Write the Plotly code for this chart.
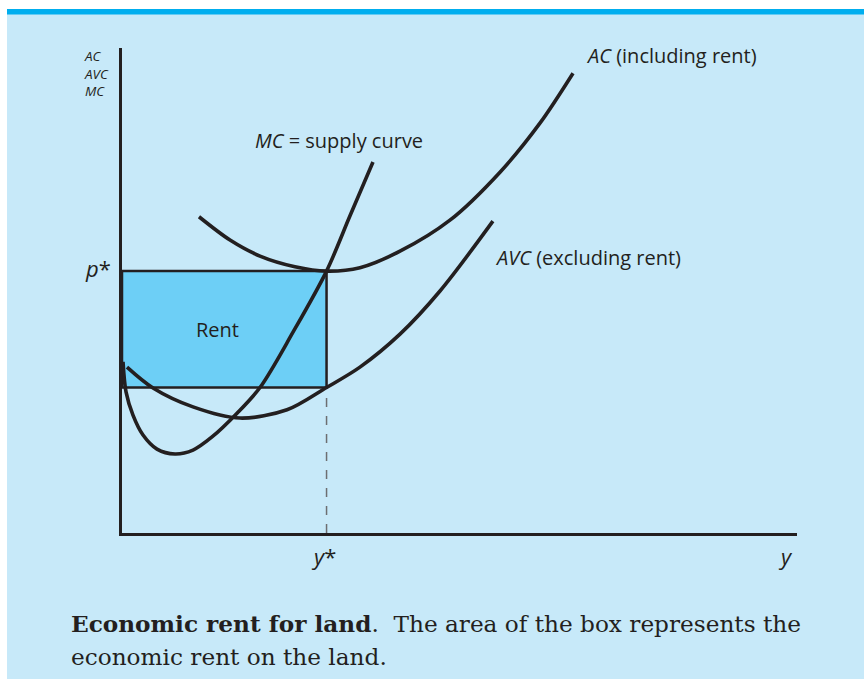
import plotly.graph_objects as go

# ---- data -------------------------------------------------------------
# output y on the horizontal axis, cost / price on the vertical axis
Y_STAR = 3.0          # equilibrium output
P_STAR = 5.4          # market price = minimum of AC
AVC_AT_Y_STAR = 3.0   # average variable cost at y*

mc_y = [0.015, 0.059, 0.161, 0.308, 0.513, 0.777, 1.041, 1.32, 1.687, 2.024, 2.508, 3.0, 3.344, 3.681]
mc_c = [3.53, 2.91, 2.43, 2.02, 1.73, 1.63, 1.71, 1.98, 2.47, 3.0, 4.14, 5.4, 6.54, 7.65]

avc_y = [0.073, 0.455, 1.041, 1.731, 2.42, 3.0, 3.49, 4.077, 4.664, 5.44]
avc_c = [3.42, 2.99, 2.60, 2.37, 2.54, 3.0, 3.42, 4.10, 4.99, 6.43]

ac_y = [1.129, 1.584, 2.024, 2.537, 3.0, 3.49, 4.077, 4.81, 5.544, 6.13, 6.615]
ac_c = [6.52, 6.04, 5.71, 5.49, 5.4, 5.47, 5.81, 6.45, 7.44, 8.45, 9.48]

X_MAX = 9.9
Y_MAX = 10.0

# ---- style ------------------------------------------------------------
INK = "#231f20"
PANEL = "#c7e9f9"
BAND = "#00aeef"
BOX = "#6dcff6"
SANS = "Open Sans"
SERIF = "DejaVu Serif"

W, H = 864, 679
L, R, T, B = 122, 67, 48, 146
PW, PH = W - L - R, H - T - B


def px(x):
    return (x - L) / PW


def py(y):
    return (H - B - y) / PH


fig = go.Figure()

curve = dict(color=INK, width=3.6, shape="spline", smoothing=0.9)
for xs, ys in [(mc_y, mc_c), (avc_y, avc_c), (ac_y, ac_c)]:
    fig.add_trace(go.Scatter(x=xs, y=ys, mode="lines", line=curve,
                             hoverinfo="skip", showlegend=False))

shapes = [
    # white page margins and the coloured header band
    dict(type="rect", xref="paper", yref="paper", x0=px(0), x1=px(7),
         y0=py(H), y1=py(0), fillcolor="white", line_width=0, layer="below"),
    dict(type="rect", xref="paper", yref="paper", x0=px(0), x1=px(W),
         y0=py(9), y1=py(0), fillcolor="white", line_width=0, layer="below"),
    dict(type="rect", xref="paper", yref="paper", x0=px(7), x1=px(W),
         y0=py(14.5), y1=py(9), fillcolor=BAND, line_width=0, layer="below"),
    # rent box
    dict(type="rect", xref="x", yref="y", x0=0, x1=Y_STAR,
         y0=AVC_AT_Y_STAR, y1=P_STAR, fillcolor=BOX,
         line=dict(color=INK, width=2.5), layer="below"),
    # dashed drop line at y*
    dict(type="line", xref="x", yref="y", x0=Y_STAR, x1=Y_STAR,
         y0=0, y1=AVC_AT_Y_STAR, line=dict(color="#6d6e71", width=1.5, dash="dash"),
         layer="below"),
]

txt = dict(family=SANS, color=INK)
ann = [
    # vertical axis title, stacked
    dict(xref="paper", yref="paper", x=px(82), y=py(45), xanchor="left",
         yanchor="top", align="left", showarrow=False,
         text="<i>AC</i><br><i>AVC</i><br><i>MC</i>", font=dict(size=13.5, **txt)),
    dict(x=1.92, y=8.10, text="<i>MC</i> = supply curve", xanchor="left",
         font=dict(size=20, **txt)),
    dict(x=6.78, y=9.84, text="<i>AC</i> (including rent)", xanchor="left",
         font=dict(size=20, **txt)),
    dict(x=5.44, y=5.69, text="<i>AVC</i> (excluding rent)", xanchor="left",
         font=dict(size=20, **txt)),
    dict(x=1.4, y=4.19, text="Rent", xanchor="center", font=dict(size=20, **txt)),
    dict(x=0, y=P_STAR, text="<i>p</i>*", xanchor="right", xshift=-9, yshift=3,
         font=dict(size=22, **txt)),
    dict(x=Y_STAR, y=0, text="<i>y</i>*", xanchor="center", yanchor="top",
         xshift=-3, yshift=-6, font=dict(size=22, **txt)),
    dict(x=X_MAX, y=0, text="<i>y</i>", xanchor="right", yanchor="top",
         xshift=-2, yshift=-6, font=dict(size=22, **txt)),
]
for a in ann:
    a.setdefault("showarrow", False)
    a.setdefault("yanchor", "middle")

cap = dict(family=SERIF, color=INK, size=23.2)
ann += [
    dict(xref="paper", yref="paper", x=px(69), y=py(623), xanchor="left",
         yanchor="middle", showarrow=False, font=cap,
         text="<b>Economic rent for land</b>.  The area of the box represents the"),
    dict(xref="paper", yref="paper", x=px(69), y=py(656), xanchor="left",
         yanchor="middle", showarrow=False, font=cap,
         text="economic rent on the land."),
]

axis = dict(showgrid=False, zeroline=False, showticklabels=False, ticks="",
            showline=True, linecolor=INK, linewidth=3, fixedrange=True)

fig.update_layout(
    width=W, height=H, autosize=False,
    margin=dict(l=L, r=R, t=T, b=B, pad=0),
    paper_bgcolor=PANEL, plot_bgcolor="rgba(0,0,0,0)",
    xaxis=dict(range=[0, X_MAX], **axis),
    yaxis=dict(range=[0, Y_MAX], **axis),
    shapes=shapes, annotations=ann, showlegend=False,
)

fig.write_html("out.html", config={"displayModeBar": False})
